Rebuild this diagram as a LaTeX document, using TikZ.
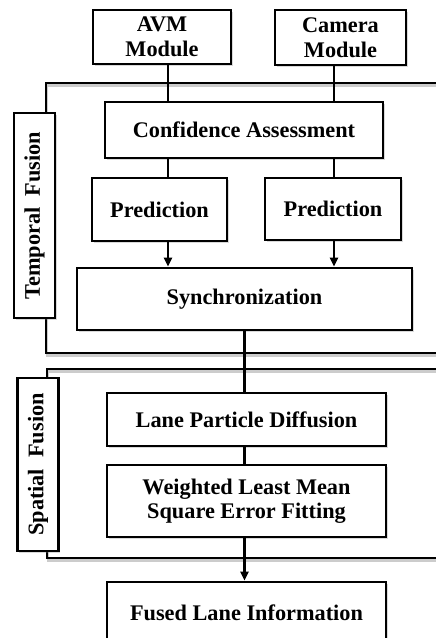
\documentclass[tikz,border=0pt]{standalone}
\usepackage{fontspec}
\setmainfont{Liberation Serif}
\usetikzlibrary{arrows.meta,shadows}
\tikzset{
  blk/.style={draw,line width=2.6pt,fill=white,align=center,inner sep=0pt,
    font=\bfseries\fontsize{22.3}{24.5}\selectfont,
    drop shadow={shadow xshift=1.5pt,shadow yshift=-1.5pt,opacity=0.3}},
  lbl/.style={blk,rotate=90,minimum height=41pt},
  frm/.style={line width=2.4pt},
  wire/.style={line width=2.4pt},
  >={Triangle[length=9pt,width=8pt]}
}
\begin{document}
\begin{tikzpicture}[x=1pt,y=-1pt]
\useasboundingbox (0,0) rectangle (436,638);
\clip (0,0) rectangle (436,638);
\path[draw,frm,gray!40,xshift=1pt,yshift=-2.5pt] (440,83) -- (46,83) -- (46,353) -- (440,353);
\path[draw,frm] (440,83) -- (46,83) -- (46,353) -- (440,353);
\path[draw,frm,gray!40,xshift=1pt,yshift=-2.5pt] (440,369) -- (47,369) -- (47,558) -- (440,558);
\path[draw,frm] (440,369) -- (47,369) -- (47,558) -- (440,558);
\node[lbl,minimum width=205pt] (tf) at (34.5,215.5) {Temporal\ \ Fusion};
\node[lbl,minimum width=173pt] (sf) at (38,464.5) {Spatial\ \ Fusion};
\node[blk,minimum width=138pt,minimum height=54pt] (avm) at (162,37) {AVM\\Module};
\node[blk,minimum width=131pt,minimum height=55pt] (cam) at (340.5,37.5) {Camera\\Module};
\node[blk,minimum width=278pt,minimum height=56pt] (conf) at (244,130) {Confidence Assessment};
\node[blk,minimum width=135pt,minimum height=63pt] (predA) at (159.5,209.5) {Prediction};
\node[blk,minimum width=136pt,minimum height=62pt] (predC) at (333,209) {Prediction};
\node[blk,minimum width=335pt,minimum height=62pt] (sync) at (244.5,299) {Synchronization};
\node[blk,minimum width=279pt,minimum height=53pt] (diff) at (246.5,419.5) {Lane Particle Diffusion};
\node[blk,minimum width=279pt,minimum height=72pt] (fit) at (246.5,501) {Weighted Least Mean\\Square Error Fitting};
\node[blk,minimum width=279pt,minimum height=62pt] (out) at (246.5,613) {Fused Lane Information};
\coordinate (colA) at (168,0);
\coordinate (colC) at (334,0);
\path[draw,wire] (avm.south -| colA) -- (conf.north -| colA);
\path[draw,wire] (cam.south -| colC) -- (conf.north -| colC);
\path[draw,wire] (conf.south -| colA) -- (predA.north -| colA);
\path[draw,wire] (conf.south -| colC) -- (predC.north -| colC);
\path[draw,wire,->] (predA.south -| colA) -- (sync.north -| colA);
\path[draw,wire,->] (predC.south -| colC) -- (sync.north -| colC);
\path[draw,wire] (sync.south) -- (sync.south |- diff.north);
\path[draw,wire] (diff.south -| sync.south) -- (fit.north -| sync.south);
\path[draw,wire,->] (fit.south -| sync.south) -- (out.north -| sync.south);
\end{tikzpicture}
\end{document}
